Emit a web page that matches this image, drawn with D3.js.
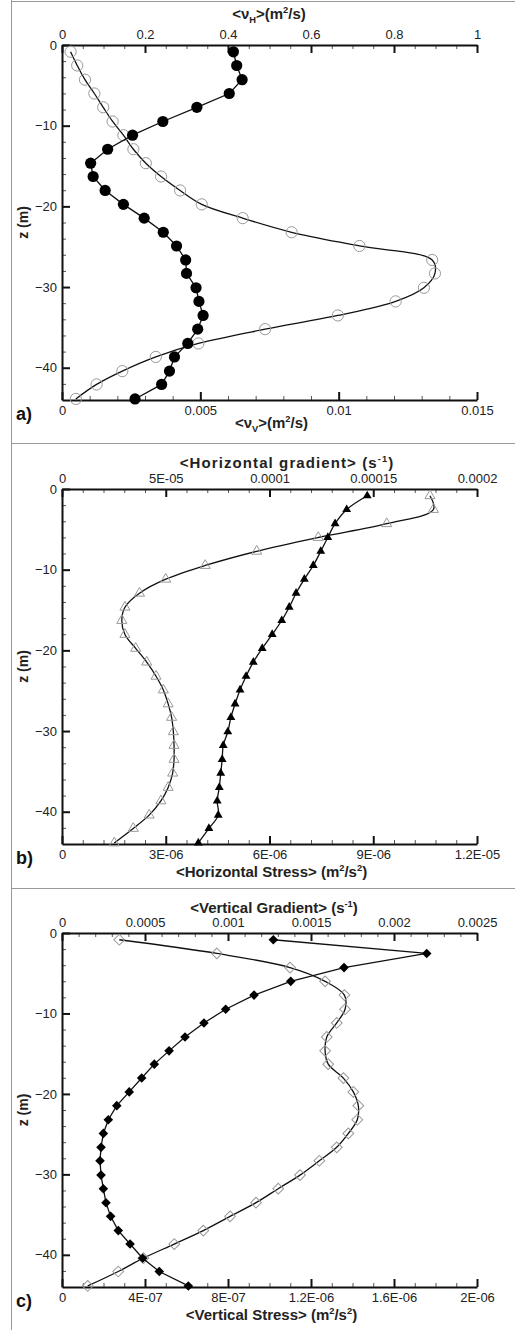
<!DOCTYPE html>
<html>
<head>
<meta charset="utf-8">
<script src="https://cdn.jsdelivr.net/npm/d3@7"></script>
<style>
  body { margin: 0; background: #fff; }
  svg { font-family: "Liberation Sans", Arial, sans-serif; }
</style>
</head>
<body>
<script>
// model levels (m), same for the three panels
const depth = [-0.84, -2.54, -4.30, -6.01, -7.72, -9.48, -11.18, -12.92, -14.65, -16.30,
  -18.03, -19.75, -21.46, -23.21, -24.91, -26.64, -28.31, -30.09, -31.78, -33.52,
  -35.22, -36.99, -38.66, -40.42, -42.07, -43.87]

// a) eddy viscosities
const nuH = [0.413, 0.421, 0.434, 0.403, 0.325, 0.243, 0.170, 0.110, 0.069, 0.075,
  0.104, 0.148, 0.198, 0.244, 0.276, 0.298, 0.300, 0.323, 0.330, 0.340,
  0.327, 0.303, 0.271, 0.259, 0.240, 0.176]
const nuV = [0.00031, 0.00055, 0.00083, 0.00117, 0.00149, 0.00183, 0.00222, 0.00258, 0.00303, 0.00358,
  0.00427, 0.00505, 0.00653, 0.00830, 0.01075, 0.01338, 0.01348, 0.01308, 0.01206, 0.00997,
  0.00734, 0.00493, 0.00339, 0.00218, 0.00125, 0.00050]

// b) horizontal gradient / stress
const hGrad = [1.471e-4, 1.372e-4, 1.316e-4, 1.281e-4, 1.247e-4, 1.211e-4, 1.168e-4, 1.128e-4, 1.095e-4, 1.059e-4,
  1.013e-4, 0.965e-4, 0.922e-4, 0.887e-4, 0.858e-4, 0.834e-4, 0.814e-4, 0.799e-4, 0.777e-4, 0.772e-4,
  0.765e-4, 0.758e-4, 0.748e-4, 0.753e-4, 0.708e-4, 0.657e-4]
const hStress = [1.064e-5, 1.074e-5, 9.39e-6, 7.41e-6, 5.63e-6, 4.14e-6, 3.00e-6, 2.24e-6, 1.82e-6, 1.73e-6,
  1.82e-6, 2.13e-6, 2.45e-6, 2.72e-6, 2.93e-6, 3.07e-6, 3.17e-6, 3.22e-6, 3.24e-6, 3.24e-6,
  3.20e-6, 3.07e-6, 2.86e-6, 2.52e-6, 2.06e-6, 1.51e-6]

// c) vertical gradient / stress
const vGrad = [1.273e-3, 2.197e-3, 1.699e-3, 1.378e-3, 1.157e-3, 0.986e-3, 0.855e-3, 0.741e-3, 0.645e-3, 0.556e-3,
  0.480e-3, 0.405e-3, 0.330e-3, 0.279e-3, 0.249e-3, 0.235e-3, 0.229e-3, 0.235e-3, 0.249e-3, 0.265e-3,
  0.293e-3, 0.339e-3, 0.410e-3, 0.486e-3, 0.586e-3, 0.761e-3]
const vStress = [2.76e-7, 7.46e-7, 1.099e-6, 1.268e-6, 1.361e-6, 1.364e-6, 1.324e-6, 1.276e-6, 1.268e-6, 1.283e-6,
  1.356e-6, 1.404e-6, 1.428e-6, 1.423e-6, 1.380e-6, 1.324e-6, 1.240e-6, 1.147e-6, 1.042e-6, 0.935e-6,
  0.810e-6, 0.681e-6, 0.541e-6, 0.392e-6, 0.271e-6, 0.124e-6]

// ticks
const zTicks = [0, -10, -20, -30, -40]
const aTopTicks = [0, 0.2, 0.4, 0.6, 0.8, 1]
const aTopLabels = ["0", "0.2", "0.4", "0.6", "0.8", "1"]
const aBotTicks = [0, 0.005, 0.01, 0.015]
const aBotLabels = ["0", "0.005", "0.01", "0.015"]
const bTopTicks = [0, 5e-5, 1e-4, 1.5e-4, 2e-4]
const bTopLabels = ["0", "5E-05", "0.0001", "0.00015", "0.0002"]
const bBotTicks = [0, 3e-6, 6e-6, 9e-6, 1.2e-5]
const bBotLabels = ["0", "3E-06", "6E-06", "9E-06", "1.2E-05"]
const cTopTicks = [0, 0.0005, 0.001, 0.0015, 0.002, 0.0025]
const cTopLabels = ["0", "0.0005", "0.001", "0.0015", "0.002", "0.0025"]
const cBotTicks = [0, 4e-7, 8e-7, 1.2e-6, 1.6e-6, 2e-6]
const cBotLabels = ["0", "4E-07", "8E-07", "1.2E-06", "1.6E-06", "2E-06"]

let width = 515
let height = 1330
let left = 62, right = 477

let svg = d3.select("body").append("svg")
  .attr("width", width)
  .attr("height", height)

// frame lines
svg.append("g").attr("stroke", "#999").attr("stroke-width", 1)
  .selectAll("line")
  .data([[11.5, 0, 11.5, 1330], [11.5, 1.5, 515, 1.5], [11.5, 443.5, 515, 443.5], [11.5, 888.5, 515, 888.5]])
  .enter().append("line")
  .attr("x1", d => d[0]).attr("y1", d => d[1]).attr("x2", d => d[2]).attr("y2", d => d[3])

let panels = [
  { label: "a)", top: 45, bottom: 400,
    topTicks: aTopTicks, topLabels: aTopLabels, topMax: 1, topMinor: 0.05,
    botTicks: aBotTicks, botLabels: aBotLabels, botMax: 0.015, botMinor: 0.001,
    topTitle: [["<ν"], ["H", "sub"], [">(m"], ["2", "sup"], ["/s)"]], topTitleX: 269, topTitleY: 19, spacing: 0,
    botTitle: [["<ν"], ["V", "sub"], [">(m"], ["2", "sup"], ["/s)"]], botTitleY: 428,
    series: [
      { values: nuV, axis: "bot", shape: "circle", filled: false, smooth: true },
      { values: nuH, axis: "top", shape: "circle", filled: true, smooth: false }
    ] },
  { label: "b)", top: 489, bottom: 844,
    topTicks: bTopTicks, topLabels: bTopLabels, topMax: 2e-4, topMinor: 1e-5,
    botTicks: bBotTicks, botLabels: bBotLabels, botMax: 1.2e-5, botMinor: 6e-7,
    topTitle: [["<Horizontal gradient> (s"], ["-1", "sup"], [")"]], topTitleX: 287, topTitleY: 468, spacing: 1.1,
    botTitle: [["<Horizontal Stress> (m"], ["2", "sup"], ["/s"], ["2", "sup"], [")"]], botTitleY: 877,
    series: [
      { values: hStress, axis: "bot", shape: "triangle", filled: false, smooth: true },
      { values: hGrad, axis: "top", shape: "triangle", filled: true, smooth: true }
    ] },
  { label: "c)", top: 933, bottom: 1287,
    topTicks: cTopTicks, topLabels: cTopLabels, topMax: 0.0025, topMinor: 1e-4,
    botTicks: cBotTicks, botLabels: cBotLabels, botMax: 2e-6, botMinor: 1e-7,
    topTitle: [["<Vertical Gradient> (s"], ["-1", "sup"], [")"]], topTitleX: 274, topTitleY: 913, spacing: 0,
    botTitle: [["<Vertical Stress> (m"], ["2", "sup"], ["/s"], ["2", "sup"], [")"]], botTitleY: 1320,
    series: [
      { values: vStress, axis: "bot", shape: "diamond", filled: false, smooth: true },
      { values: vGrad, axis: "top", shape: "diamond", filled: true, smooth: false }
    ] }
]

panels.forEach(drawPanel)

// text with sub/superscript parts; the baseline shift is undone on the next part
function richText(sel, parts) {
  let back = 0
  parts.forEach(p => {
    let t = sel.append("tspan").text(p[0])
    let shift = 0
    if (p[1] === "sub") { shift = 4; t.attr("font-size", "0.62em") }
    if (p[1] === "sup") { shift = -6; t.attr("font-size", "0.62em") }
    if (shift - back !== 0) t.attr("dy", shift - back)
    back = shift
  })
}

function drawPanel(p) {
  let g = svg.append("g")
  let y = d3.scaleLinear().domain([0, -44]).range([p.top, p.bottom])
  let xTop = d3.scaleLinear().domain([0, p.topMax]).range([left, right])
  let xBot = d3.scaleLinear().domain([0, p.botMax]).range([left, right])

  // minor ticks
  let minor = (step, max, majors) => d3.range(0, max + step / 2, step)
    .filter(v => !majors.some(m => Math.abs(m - v) < step / 10))

  g.append("g").attr("class", "minor")
    .attr("transform", `translate(0,${p.top})`)
    .call(d3.axisTop(xTop).tickValues(minor(p.topMinor, p.topMax, p.topTicks)).tickSize(-4).tickFormat(""))
  g.append("g").attr("class", "minor")
    .attr("transform", `translate(0,${p.bottom})`)
    .call(d3.axisBottom(xBot).tickValues(minor(p.botMinor, p.botMax, p.botTicks)).tickSize(-4).tickFormat(""))
  g.append("g").attr("class", "minor")
    .attr("transform", `translate(${left},0)`)
    .call(d3.axisLeft(y).tickValues(d3.range(-2, -43, -2).filter(v => v % 10 !== 0)).tickSize(-4).tickFormat(""))
  g.selectAll(".minor path").remove()
  g.selectAll(".minor line").attr("stroke", "#555").attr("stroke-width", 1)

  // major axes
  let topAxis = g.append("g")
    .attr("transform", `translate(0,${p.top})`)
    .call(d3.axisTop(xTop).tickValues(p.topTicks).tickSize(-8).tickSizeOuter(0).tickPadding(6)
      .tickFormat((d, i) => p.topLabels[i]))
  let botAxis = g.append("g")
    .attr("transform", `translate(0,${p.bottom})`)
    .call(d3.axisBottom(xBot).tickValues(p.botTicks).tickSize(-8).tickSizeOuter(0).tickPadding(6)
      .tickFormat((d, i) => p.botLabels[i]))
  let leftAxis = g.append("g")
    .attr("transform", `translate(${left},0)`)
    .call(d3.axisLeft(y).tickValues(zTicks).tickSize(-8).tickSizeOuter(0).tickPadding(5))

  ;[topAxis, botAxis, leftAxis].forEach(a => {
    a.select(".domain").attr("stroke", "#111").attr("stroke-width", 2)
    a.selectAll(".tick line").attr("stroke", "#111").attr("stroke-width", 2)
    a.selectAll("text").attr("font-size", 13).attr("fill", "#222")
      .attr("font-family", "Liberation Sans, Arial, sans-serif")
  })
  topAxis.selectAll("text").attr("dy", "0")

  // titles
  richText(g.append("text")
    .attr("x", p.topTitleX).attr("y", p.topTitleY)
    .attr("letter-spacing", p.spacing)
    .attr("text-anchor", "middle").attr("font-weight", "bold").attr("font-size", 15).attr("fill", "#222"),
    p.topTitle)
  richText(g.append("text")
    .attr("x", (left + right) / 2 + 2).attr("y", p.botTitleY)
    .attr("text-anchor", "middle").attr("font-weight", "bold").attr("font-size", 15).attr("fill", "#222"),
    p.botTitle)

  g.append("text")
    .attr("transform", `translate(28,${(p.top + p.bottom) / 2}) rotate(-90)`)
    .attr("text-anchor", "middle").attr("font-weight", "bold").attr("font-size", 14).attr("fill", "#222")
    .text("z (m)")

  g.append("text")
    .attr("x", 16).attr("y", p.bottom + 20)
    .attr("font-weight", "bold").attr("font-size", 18).attr("fill", "#111")
    .text(p.label)

  // series
  p.series.forEach(s => {
    let x = s.axis === "top" ? xTop : xBot
    let pts = s.values.map((v, i) => [x(v), y(depth[i])])

    let line = d3.line().curve(s.smooth ? d3.curveCatmullRom : d3.curveLinear)
    g.append("path")
      .attr("d", line(pts))
      .attr("fill", "none")
      .attr("stroke", "#111")
      .attr("stroke-width", 1.3)

    let marks = g.append("g").selectAll("path")
      .data(pts)
      .enter()
      .append("path")

    if (s.shape === "circle") {
      marks.attr("d", d3.symbol(d3.symbolCircle, Math.PI * 5.6 * 5.6))
        .attr("transform", d => `translate(${d[0]},${d[1]})`)
    } else if (s.shape === "triangle") {
      marks.attr("d", d3.symbol(d3.symbolTriangle, s.filled ? 34 : 44))
        .attr("transform", d => `translate(${d[0]},${d[1]})`)
    } else {
      marks.attr("d", d3.symbol(d3.symbolSquare, s.filled ? 46 : 58))
        .attr("transform", d => `translate(${d[0]},${d[1]}) rotate(45)`)
    }

    if (s.filled) marks.attr("fill", "#000")
    else marks.attr("fill", "none").attr("stroke", "#999").attr("stroke-width", 1)
  })
}
</script>
</body>
</html>
